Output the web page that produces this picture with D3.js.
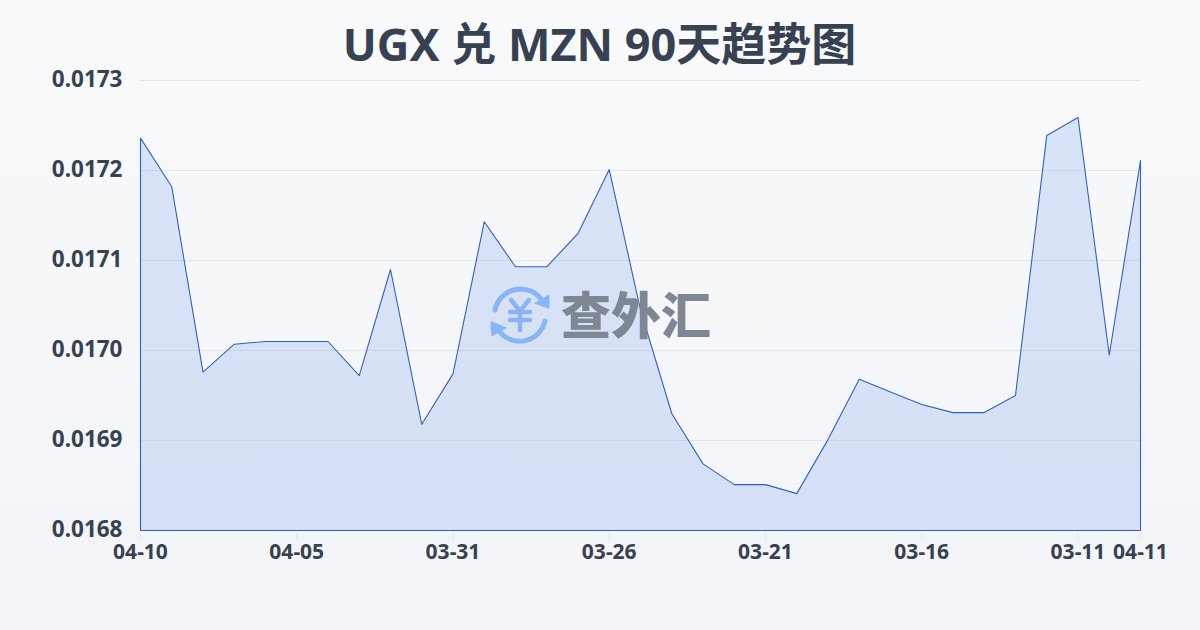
<!DOCTYPE html>
<html><head><meta charset="utf-8">
<script src="https://cdn.jsdelivr.net/npm/d3@7"></script>
<style>
html,body{margin:0;padding:0;background:#f8fafc}
svg{display:block}
text{font-family:"Noto Sans","Noto Sans CJK SC",sans-serif}
</style></head><body><div id="c"></div>
<script>
const titleText = "UGX 兑 MZN 90天趋势图";
const dates = ["04-10","04-09","04-08","04-07","04-06","04-05","04-04","04-03","04-02","04-01","03-31","03-30","03-29","03-28","03-27","03-26","03-25","03-24","03-23","03-22","03-21","03-20","03-19","03-18","03-17","03-16","03-15","03-14","03-13","03-12","03-11","03-10","04-11"];
const rates = [0.017236,0.017182,0.016976,0.017007,0.017010,0.017010,0.017010,0.016972,0.017090,0.016918,0.016974,0.017143,0.017093,0.017093,0.017130,0.017201,0.017045,0.016930,0.016874,0.016851,0.016851,0.016841,0.016901,0.016968,0.016954,0.016940,0.016931,0.016931,0.016950,0.017239,0.017259,0.016995,0.017211];
const xTicks = ["04-10","04-05","03-31","03-26","03-21","03-16","03-11","04-11"];
const yTicks = [0.0168,0.0169,0.0170,0.0171,0.0172,0.0173];
const watermarkText = "查外汇";

const W=1200,H=630,L=140.5,R=1140.5,T=80.5,B=530.5;
const svg=d3.select("#c").append("svg").attr("width",W).attr("height",H);
const defs=svg.append("defs");
const bg=defs.append("linearGradient").attr("id","bg").attr("x1",0).attr("x2",0).attr("y1",0).attr("y2",1);
bg.append("stop").attr("offset",0).attr("stop-color","#f8fafc");
bg.append("stop").attr("offset",1).attr("stop-color","#f2f4f7");
svg.append("rect").attr("width",W).attr("height",H).attr("fill","url(#bg)");

const x=d3.scalePoint().domain(dates).range([L,R]);
const y=d3.scaleLinear().domain([0.0168,0.0173]).range([B,T]);

svg.append("text").attr("x",599.5).attr("y",61).attr("text-anchor","middle")
  .attr("font-size",45).attr("font-weight",700).attr("fill","#374151").text(titleText);

// grid + y labels
const ya=svg.append("g").attr("transform",`translate(${L},0)`)
  .call(d3.axisLeft(y).offset(0).tickValues(yTicks).tickFormat(d3.format(".4f")).tickSize(-(R-L)).tickPadding(18));
ya.select(".domain").remove();
ya.selectAll("line").attr("stroke","#e5e7eb").attr("stroke-width",1);
ya.selectAll("text").attr("font-size",22.5).attr("font-weight",700).attr("fill","#374151").attr("dy","0.3em").attr("font-family",null);

// x axis
const xa=svg.append("g").attr("transform",`translate(0,${B})`)
  .call(d3.axisBottom(x).offset(0).tickValues(xTicks).tickSize(10).tickPadding(4));
xa.select(".domain").remove();
xa.selectAll("line").attr("stroke","#e5e7eb").attr("stroke-width",1);
xa.selectAll("text").attr("font-size",21).attr("font-weight",700).attr("fill","#374151").attr("dy","0.7em").attr("font-family",null);

// area
const area=d3.area().x((d,i)=>x(dates[i])).y0(B).y1(d=>y(d));
svg.append("path").datum(rates).attr("d",area)
  .attr("fill","#2563eb").attr("fill-opacity",0.14)
  .attr("stroke","#2f62c8").attr("stroke-width",1.1).attr("stroke-linejoin","round");

// watermark
const wm=svg.append("g").attr("pointer-events","none");
const ic=wm.append("g").attr("transform","translate(520,315)").attr("fill","none").attr("stroke","#8ab4f8").attr("stroke-linecap","round");
ic.append("path").attr("d","M-25,-5 A26,26 0 0 1 21,-16").attr("stroke-width",5);
ic.append("path").attr("d","M25,6 A26,26 0 0 1 -21,16").attr("stroke-width",5);
ic.append("path").attr("d","M29,-7 L29,-20 L15,-12 Z").attr("fill","#8ab4f8").attr("stroke","#8ab4f8").attr("stroke-width",1).attr("stroke-linejoin","round");
ic.append("path").attr("d","M-29,7 L-28,21 L-14,13 Z").attr("fill","#8ab4f8").attr("stroke","#8ab4f8").attr("stroke-width",1).attr("stroke-linejoin","round");
ic.append("path").attr("d","M-9,-15 L0,-4 L9,-15 M-10,-3 H10 M-10,5 H10 M0,-4 V15").attr("stroke-width",4.5);
wm.append("text").attr("x",636).attr("y",334).attr("text-anchor","middle")
  .attr("font-family","'Noto Sans CJK SC'").attr("font-size",50).attr("font-weight",900)
  .attr("fill","#7f8694").text(watermarkText);
</script></body></html>
